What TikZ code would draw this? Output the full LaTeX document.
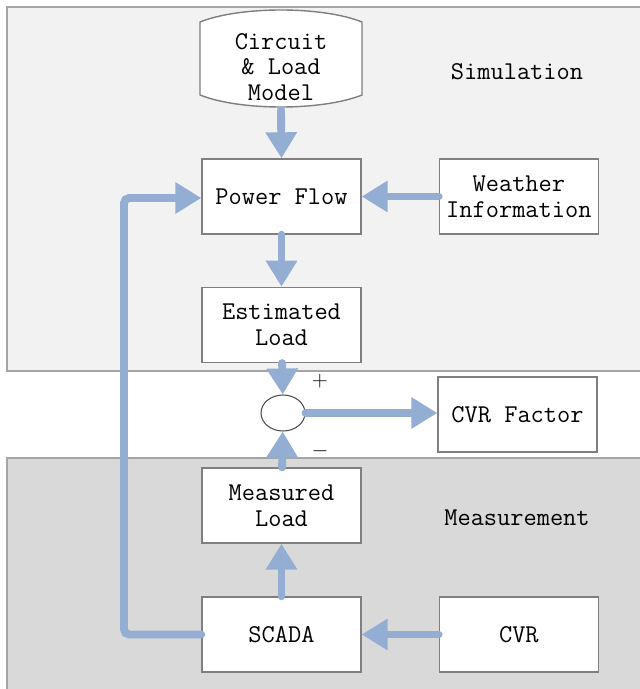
\documentclass[tikz,border=0pt]{standalone}
\usepackage{fontspec}
\usetikzlibrary{arrows.meta,positioning,shapes.geometric}
\definecolor{flowblue}{HTML}{94AED3}
\definecolor{simgray}{HTML}{F2F2F2}
\definecolor{measgray}{HTML}{D9D9D9}
\definecolor{edgegray}{HTML}{7F7F7F}

\begin{document}
\begin{tikzpicture}[x=0.02cm,y=-0.02cm,
    block/.style={draw=edgegray,line width=0.8pt,fill=white,minimum width=3.18cm,
                  minimum height=1.5cm,align=center,inner sep=1pt,
                  font=\ttfamily\fontsize{14.6}{14.8}\selectfont},
    panel/.style={draw=edgegray!70,line width=1pt},
    tag/.style={font=\ttfamily\fontsize{14.6}{14.8}\selectfont},
    flow/.style={-{Triangle[width=0.6cm,length=0.52cm]},line width=4.5pt,flowblue,line cap=round},
    node distance=1.04cm and 1.54cm
  ]
    \useasboundingbox (0,0) rectangle (639,689);
    % panels
    \fill[simgray] (7,7) rectangle (645,371);
    \draw[panel] (645,7) -- (7,7) -- (7,371) -- (645,371);
    \fill[measgray] (7,458) rectangle (645,695);
    \draw[panel] (645,458) -- (7,458) -- (7,695);
    \node[tag] (sim)  at (517,72)  {Simulation};
    \node[tag] (meas) at (517,518) {Measurement};

    % database
    \draw[edgegray,line width=0.8pt,fill=white]
      (200,22) .. controls (240,6) and (322,6) .. (362,22) -- (362,95)
      .. controls (322,111) and (240,111) .. (200,95) -- cycle;
    \node[align=center,inner sep=0pt,font=\ttfamily\fontsize{14.6}{14.4}\selectfont]
      (model) at (281,67) {Circuit\\\&~Load\\Model};

    % boxes
    \node[block] (pf) at (281.5,196.5) {Power Flow};
    \node[block,right=of pf] (weather) {Weather\\Information};
    \node[block,below=of pf] (est) {Estimated\\Load};
    \node[draw=black!70,line width=0.6pt,fill=white,ellipse,minimum width=0.88cm,
          minimum height=0.72cm,inner sep=0pt] (sum) at (283,413) {};
    \node[block] (cvrf) at (517.5,414.5) {CVR Factor};
    \node[block] (meas-load) at (281.5,505.5) {Measured\\Load};
    \node[block] (scada) at (281.5,634.5) {SCADA};
    \node[block,right=of scada] (cvr) {CVR};
    \node[font=\fontsize{12}{12}\selectfont] (plus)  at (320,381) {$+$};
    \node[font=\fontsize{12}{12}\selectfont] (minus) at (320,451) {$-$};

    % flows
    \draw[flow] (model.south |- 0,110) -- (pf.north);
    \draw[flow] (pf) -- (est);
    \draw[flow] (weather) -- (pf);
    \draw[flow] (est) -- (sum);
    \draw[flow] (meas-load) -- (sum);
    \draw[flow] (sum.east) -- (sum.east -| cvrf.west);
    \draw[flow] (scada) -- (meas-load);
    \draw[flow] (cvr) -- (scada);
    \draw[flow,rounded corners=3pt] (scada.west) -- (124,634.5) -- (124,198) -- (pf.west |- 0,198);
\end{tikzpicture}
\end{document}
